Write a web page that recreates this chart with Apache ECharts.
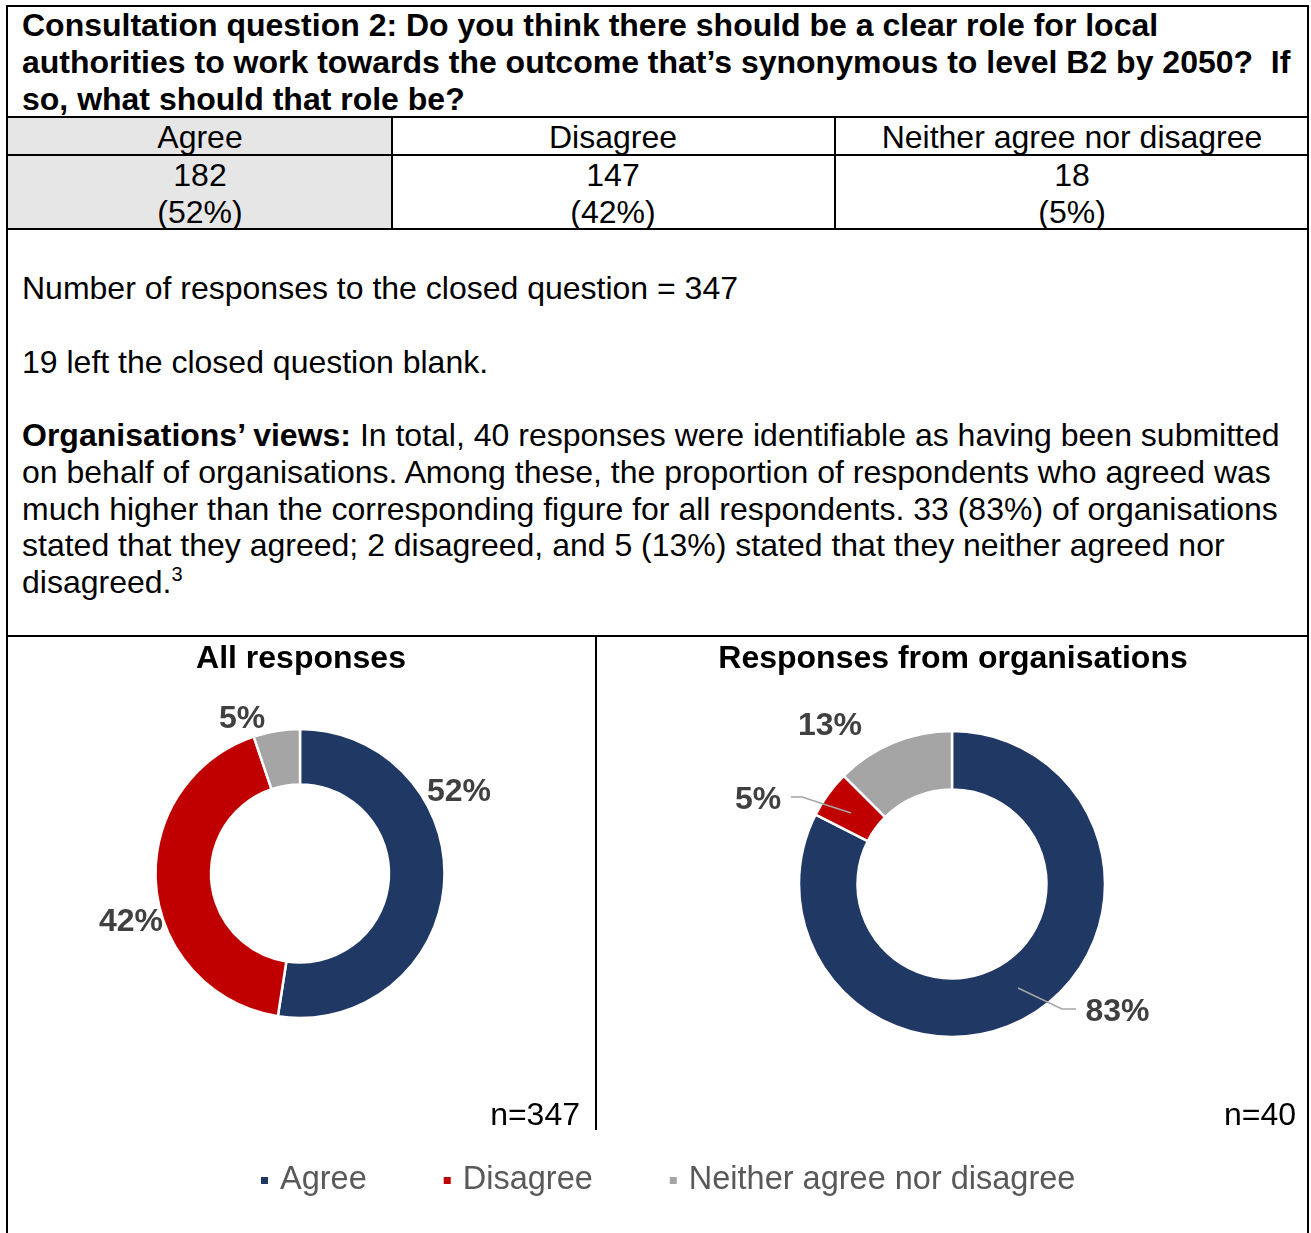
<!DOCTYPE html>
<html>
<head>
<meta charset="utf-8">
<title>Consultation question 2</title>
<script src="https://cdn.jsdelivr.net/npm/echarts@6/dist/echarts.min.js"></script>
<style>
  html, body { margin: 0; padding: 0; background: #fff; }
  #page { position: relative; width: 1311px; height: 1233px; overflow: hidden;
          font-family: "Liberation Sans", Arial, sans-serif; color: #000; }
  .ln { position: absolute; background: #000; }
  .fill { position: absolute; background: #e7e6e6; }
  .t { position: absolute; font-size: 32px; line-height: 37px; white-space: nowrap; }
  .b { font-weight: bold; }
  .c { text-align: center; }
  .para { line-height: 36.75px; }
  sup { font-size: 20px; line-height: 0; vertical-align: 12px; }
  #chart { position: absolute; left: 0; top: 0; width: 1311px; height: 1233px; }
</style>
</head>
<body>
<div id="page">
  <!-- shaded first column -->
  <div class="fill" style="left:8px;top:118px;width:383px;height:110px;"></div>

  <!-- table rules -->
  <div class="ln" style="left:6px;top:5px;width:1303px;height:2px;"></div>
  <div class="ln" style="left:6px;top:5px;width:2px;height:1228px;"></div>
  <div class="ln" style="left:1307px;top:5px;width:2px;height:1228px;"></div>
  <div class="ln" style="left:6px;top:116px;width:1303px;height:2px;"></div>
  <div class="ln" style="left:6px;top:154px;width:1303px;height:2px;"></div>
  <div class="ln" style="left:6px;top:228px;width:1303px;height:2px;"></div>
  <div class="ln" style="left:391px;top:116px;width:2px;height:114px;"></div>
  <div class="ln" style="left:834px;top:116px;width:2px;height:114px;"></div>
  <div class="ln" style="left:6px;top:635px;width:1303px;height:2px;"></div>
  <div class="ln" style="left:595px;top:635px;width:2px;height:495px;"></div>

  <!-- question -->
  <div class="t b" style="left:22px;top:7px;">
    Consultation question 2: Do you think there should be a clear role for local<br>
    authorities to work towards the outcome that’s synonymous to level B2 by 2050?&nbsp; If<br>
    so, what should that role be?
  </div>

  <!-- table cells are filled in by the script -->
  <div id="cells"></div>

  <!-- commentary -->
  <div class="t para" id="notes" style="left:22px;top:270px;"></div>

  <div id="chart"></div>
</div>

<script>
// Response categories and counts
const categories = ['Agree', 'Disagree', 'Neither agree nor disagree'];
const allResponses = [182, 147, 18];
const orgResponses = [33, 2, 5];
const blankResponses = 19;

const colors = ['#203864', '#C00000', '#A5A5A5'];

const sum = a => a.reduce((s, v) => s + v, 0);
const pct = (v, tot) => Math.round(v / tot * 100);
const totalAll = sum(allResponses);
const totalOrg = sum(orgResponses);

// ---- summary table ----
const colCentres = [200, 613, 1072];
let cellsHtml = '';
categories.forEach((c, i) => {
  cellsHtml += `<div class="t c" style="left:${colCentres[i] - 250}px;width:500px;top:119px;">${c}</div>`;
  cellsHtml += `<div class="t c" style="left:${colCentres[i] - 250}px;width:500px;top:157px;">${allResponses[i]}<br>(${pct(allResponses[i], totalAll)}%)</div>`;
});
document.getElementById('cells').innerHTML = cellsHtml;

// ---- commentary text ----
document.getElementById('notes').innerHTML =
  `Number of responses to the closed question = ${totalAll}<br><br>` +
  `${blankResponses} left the closed question blank.<br><br>` +
  `<b>Organisations’ views:</b> In total, ${totalOrg} responses were identifiable as having been submitted<br>` +
  `on behalf of organisations. Among these, the proportion of respondents who agreed was<br>` +
  `much higher than the corresponding figure for all respondents. ${orgResponses[0]} (${pct(orgResponses[0], totalOrg)}%) of organisations<br>` +
  `stated that they agreed; ${orgResponses[1]} disagreed, and ${orgResponses[2]} (${pct(orgResponses[2], totalOrg)}%) stated that they neither agreed nor<br>` +
  `disagreed.<sup>3</sup>`;

// ---- donut charts ----
const chart = echarts.init(document.getElementById('chart'), null, { renderer: 'canvas' });

const FONT = '"Liberation Sans", Arial, sans-serif';
const labelFont = { fontFamily: FONT, fontSize: 32, fontWeight: 'bold', color: '#404040' };

function donut(name, values, center, radius, labelOffsets) {
  return {
    type: 'pie',
    name: name,
    center: center,
    radius: radius,
    startAngle: 90,
    clockwise: true,
    avoidLabelOverlap: false,
    animation: false,
    emphasis: { disabled: true },
    itemStyle: { borderColor: '#ffffff', borderWidth: 2.5 },
    label: {
      show: true,
      position: 'outside',
      formatter: p => Math.round(p.percent) + '%',
      ...labelFont
    },
    labelLine: { show: false },
    labelLayout: params => {
      const o = labelOffsets[params.dataIndex];
      return { x: center[0] + o[0], y: center[1] + o[1], align: 'center', verticalAlign: 'middle' };
    },
    data: categories.map((c, i) => ({
      name: c,
      value: values[i],
      itemStyle: { color: colors[i] }
    }))
  };
}

// leader line drawn over the ring, points relative to the ring centre
function leader(center, pts) {
  return {
    type: 'polyline',
    z: 100,
    silent: true,
    shape: { points: pts.map(p => [center[0] + p[0], center[1] + p[1]]) },
    style: { stroke: '#A6A6A6', lineWidth: 1.5, fill: null }
  };
}

const centreAll = [300, 873.5];
const centreOrg = [952, 884];

const option = {
  animation: false,
  legend: {
    data: categories,
    left: 259,
    top: 1164,
    padding: 0,
    itemGap: 75,
    itemWidth: 9,
    itemHeight: 9,
    icon: 'rect',
    selectedMode: false,
    textStyle: { fontFamily: FONT, fontSize: 32.5, color: '#595959', padding: [0, 0, 0, 6] }
  },
  graphic: [
    { type: 'text', x: 301, y: 659, style: { text: 'All responses', textAlign: 'center', textVerticalAlign: 'middle', font: 'bold 32px ' + FONT, fill: '#000' } },
    { type: 'text', x: 953, y: 659, style: { text: 'Responses from organisations', textAlign: 'center', textVerticalAlign: 'middle', font: 'bold 32px ' + FONT, fill: '#000' } },
    { type: 'text', x: 580, y: 1116, style: { text: 'n=' + totalAll, textAlign: 'right', textVerticalAlign: 'middle', font: '32px ' + FONT, fill: '#000' } },
    { type: 'text', x: 1296, y: 1116, style: { text: 'n=' + totalOrg, textAlign: 'right', textVerticalAlign: 'middle', font: '32px ' + FONT, fill: '#000' } },
    leader(centreOrg, [[66, 104], [110, 125], [124, 125]]),
    leader(centreOrg, [[-101, -71], [-150, -87], [-161, -87]])
  ],
  series: [
    donut('All responses', allResponses, centreAll, [89, 144.5],
      [[159, -81.5], [-169, 48.5], [-58, -154.5]]),
    donut('Responses from organisations', orgResponses, centreOrg, [94.5, 153],
      [[165.5, 128], [-194, -84], [-122, -158]])
  ]
};
chart.setOption(option);
</script>
</body>
</html>
